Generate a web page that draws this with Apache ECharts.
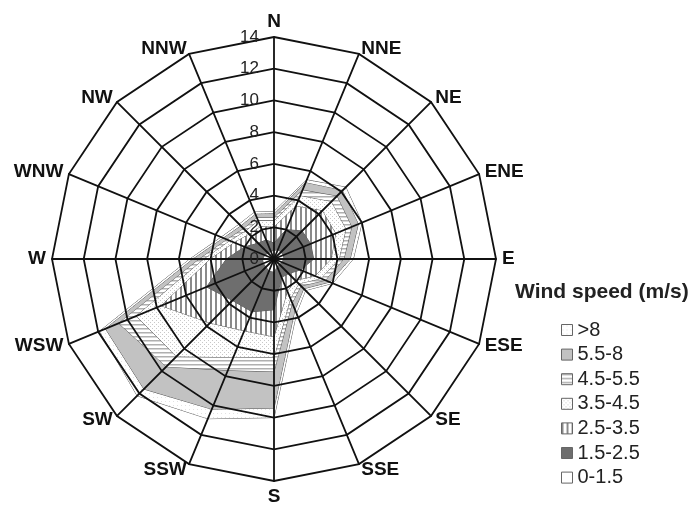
<!DOCTYPE html>
<html>
<head>
<meta charset="utf-8">
<title>Wind rose</title>
<script src="https://cdn.jsdelivr.net/npm/echarts@6/dist/echarts.min.js"></script>
<style>
  html, body { margin: 0; padding: 0; background: #fff; }
  #main { width: 694px; height: 508px; }
</style>
</head>
<body>
<div id="main"></div>
<script>
// wind directions, compass order (clockwise from N)
var directions = ['N', 'NNE', 'NE', 'ENE', 'E', 'ESE', 'SE', 'SSE',
                  'S', 'SSW', 'SW', 'WSW', 'W', 'WNW', 'NW', 'NNW'];

// frequency (%) of each speed class per direction
var freq0to15   = [0.5, 0.6, 0.6, 0.6, 0.6, 0.5, 0.5, 0.5, 0.8, 0.8, 0.7, 0.7, 0.7, 0.6, 0.5, 0.5];
var freq15to25  = [0.5, 1.4, 1.9, 1.9, 1.9, 1.3, 0.8, 0.75, 2.4, 2.8, 3.0, 3.9, 2.3, 1.4, 0.9, 0.8];
var freq25to35  = [1.0, 1.6, 1.8, 1.7, 1.1, 1.0, 0.6, 0.95, 1.7, 1.3, 2.0, 3.1, 1.0, 0.7, 0.8, 0.9];
var freq35to45  = [0.4, 0.7, 0.8, 0.7, 0.5, 0.4, 0.3, 0.5, 1.3, 1.8, 3.0, 1.7, 0.4, 0.3, 0.3, 0.4];
var freq45to55  = [0.2, 0.4, 0.5, 0.4, 0.3, 0.3, 0.2, 0.3, 0.9, 0.9, 0.9, 1.2, 0.3, 0.2, 0.2, 0.2];
var freq55to8   = [0.25, 0.5, 0.5, 0.45, 0.4, 0.3, 0.25, 0.45, 2.3, 2.65, 2.0, 0.9, 0.4, 0.25, 0.25, 0.25];
var freqOver8   = [0.15, 0.2, 0.3, 0.25, 0.2, 0.2, 0.15, 0.25, 0.6, 0.65, 0.6, 0.4, 0.2, 0.15, 0.15, 0.15];

// speed classes, inner to outer
var speedBins = ['0-1.5', '1.5-2.5', '2.5-3.5', '3.5-4.5', '4.5-5.5', '5.5-8', '>8'];
var binFreqs = [freq0to15, freq15to25, freq25to35, freq35to45, freq45to55, freq55to8, freqOver8];

var axisMax = 14;
var axisSplits = 7;

var font = 'Liberation Sans, Arial, sans-serif';

function makePattern(kind) {
  var c = document.createElement('canvas');
  var s = kind === 'vstripe' ? 5 : 4;
  c.width = s;
  c.height = s;
  var ctx = c.getContext('2d');
  ctx.fillStyle = '#ffffff';
  ctx.fillRect(0, 0, s, s);
  if (kind === 'vstripe') {
    ctx.fillStyle = '#8a8a8a';
    ctx.fillRect(0, 0, 2, s);
  } else if (kind === 'hstripe') {
    ctx.fillStyle = '#b0b0b0';
    ctx.fillRect(0, 0, s, 1.5);
  } else if (kind === 'dots') {
    ctx.fillStyle = '#c8c8c8';
    ctx.fillRect(0, 0, 1, 1);
    ctx.fillRect(2, 2, 1, 1);
  } else if (kind === 'fine') {
    ctx.fillStyle = '#e2e2e2';
    ctx.fillRect(1, 1, 1, 1);
  }
  return { image: c, repeat: 'repeat' };
}

// fill per class, inner to outer
var fills = [
  '#ffffff',
  '#6e6e6e',
  makePattern('vstripe'),
  makePattern('dots'),
  makePattern('hstripe'),
  '#c2c2c2',
  makePattern('fine')
];

// radar lays indicators out counter-clockwise, so walk the compass backwards
var radarOrder = [0];
for (var i = directions.length - 1; i > 0; i--) {
  radarOrder.push(i);
}

var indicators = radarOrder.map(function (d, idx) {
  var ind = { name: directions[d], min: 0, max: axisMax };
  if (idx === 0) {
    ind.axisLabel = { show: true, color: '#222', fontSize: 17, fontFamily: font, margin: 15 };
  }
  return ind;
});

// cumulative radius of each class
var cumulative = [];
var running = directions.map(function () { return 0; });
binFreqs.forEach(function (arr) {
  running = running.map(function (v, d) { return v + arr[d]; });
  cumulative.push(running.slice());
});

var series = [];
for (var k = speedBins.length - 1; k >= 0; k--) {
  series.push({
    type: 'radar',
    name: speedBins[k],
    symbol: 'none',
    silent: true,
    z: 2 + (speedBins.length - 1 - k) * 0.1,
    lineStyle: { color: '#555', width: 1 },
    areaStyle: { color: fills[k], opacity: 1 },
    itemStyle: { color: fills[k] },
    data: [{
      name: speedBins[k],
      value: radarOrder.map(function (d) { return +cumulative[k][d].toFixed(2); })
    }]
  });
}

var legendData = [];
for (var j = speedBins.length - 1; j >= 0; j--) {
  legendData.push({
    name: speedBins[j],
    itemStyle: { color: fills[j], borderColor: '#666', borderWidth: 1 }
  });
}

var chart = echarts.init(document.getElementById('main'), null, { renderer: 'canvas' });

var option = {
  backgroundColor: '#ffffff',
  animation: false,
  title: {
    text: 'Wind speed (m/s)',
    left: 510,
    top: 277,
    textStyle: { fontSize: 21, fontWeight: 'bold', color: '#222', fontFamily: font }
  },
  legend: {
    orient: 'vertical',
    left: 556,
    top: 315,
    icon: 'rect',
    itemWidth: 11,
    itemHeight: 11,
    itemGap: 4.6,
    selectedMode: false,
    textStyle: { fontSize: 20, color: '#222', fontFamily: font },
    data: legendData
  },
  radar: {
    center: [274, 259],
    radius: 222,
    startAngle: 90,
    splitNumber: axisSplits,
    shape: 'polygon',
    z: 10,
    nameGap: 6,
    axisName: { color: '#111', fontSize: 19, fontWeight: 'bold', fontFamily: font },
    axisLine: { lineStyle: { color: '#111', width: 1.8 } },
    splitLine: { lineStyle: { color: '#111', width: 1.8 } },
    splitArea: { show: false },
    axisTick: { show: false },
    axisLabel: { show: false },
    indicator: indicators
  },
  series: series
};

chart.setOption(option);
</script>
</body>
</html>
